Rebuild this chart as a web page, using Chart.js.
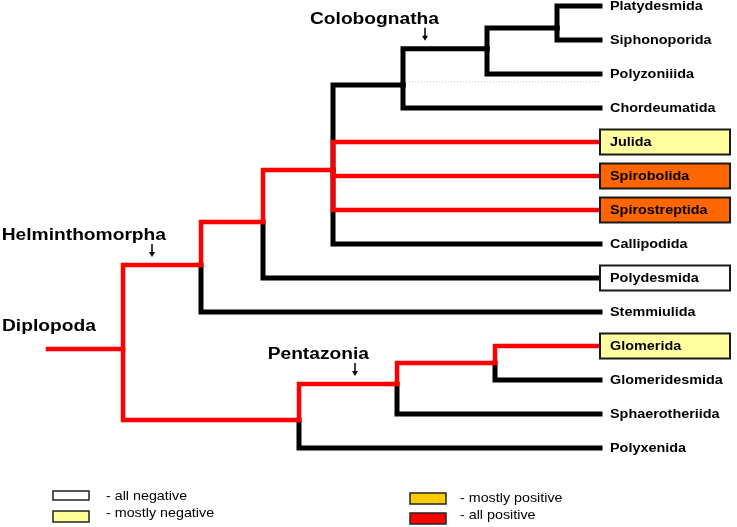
<!DOCTYPE html>
<html>
<head>
<meta charset="utf-8">
<script src="https://cdn.jsdelivr.net/npm/chart.js@4.4.1/dist/chart.umd.min.js"></script>
<style>
  html, body { margin: 0; padding: 0; background: #fff; }
  canvas { display: block; }
</style>
</head>
<body>
<canvas id="tree" width="737" height="527"></canvas>
<script>
// leaves, top to bottom (row = leaf index)
const taxa = ['Platydesmida', 'Siphonoporida', 'Polyzoniiida', 'Chordeumatida', 'Julida', 'Spirobolida',
    'Spirostreptida', 'Callipodida', 'Polydesmida', 'Stemmiulida', 'Glomerida', 'Glomeridesmida',
    'Sphaerotheriida', 'Polyxenida'];
const taxonRows = [0, 1, 2, 3, 4, 5, 6, 7, 8, 9, 10, 11, 12, 13];
const taxonParents = ['n557', 'n557', 'Colobognatha', 'n403', 'n333', 'n333', 'n333', 'n333', 'n263',
    'Helminthomorpha', 'n495', 'n495', 'Pentazonia', 'n299'];
const taxonPositive = [false, false, false, false, true, true, true, false, false, false, true, false, false, false];
const taxonStatus = ['', '', '', '', 'mostly negative', 'positive', 'positive', '', 'all negative', '',
    'mostly negative', '', '', ''];
const tipDepth = 600;

// internal nodes
const nodeNames = ['Diplopoda', 'Helminthomorpha', 'n263', 'n333', 'n403', 'Colobognatha', 'n557', 'n299', 'Pentazonia', 'n495'];
const nodeParents = [null, 'Diplopoda', 'Helminthomorpha', 'n263', 'n333', 'n403', 'Colobognatha', 'Diplopoda', 'n299', 'Pentazonia'];
const nodeDepths = [123, 201, 263, 333, 403, 487, 557, 299, 397, 495];
const nodeRows = [10.09, 7.62, 6.35, 4.82, 2.32, 1.26, 0.65, 12.18, 11.12, 10.5];
const nodePositive = [true, true, true, true, false, false, false, true, true, true];
const stemDepth = 48;

// legend
const legendLabels = ['- all negative', '- mostly negative', '- mostly positive', '- all positive'];
const legendColors = ['#ffffff', '#ffff99', '#ffcc00', '#ff0000'];

const boxFill = { 'all negative': '#ffffff', 'mostly negative': '#ffffa0', 'positive': '#ff6600' };

const datasets = [];

function addBranch(points, positive) {
    datasets.push({
        data: points,
        showLine: true,
        pointRadius: 0,
        borderColor: positive ? '#ff0000' : '#000000',
        borderWidth: positive ? 4.5 : 5,
        borderJoinStyle: 'miter',
        borderCapStyle: 'square',
        tension: 0,
        order: positive ? 0 : 1
    });
}

function parentOf(name) {
    const i = nodeNames.indexOf(name);
    return { x: nodeDepths[i], y: nodeRows[i] };
}

// stem of the root
addBranch([{ x: stemDepth, y: nodeRows[0] }, { x: nodeDepths[0], y: nodeRows[0] }], nodePositive[0]);

nodeNames.forEach((name, i) => {
    if (!nodeParents[i]) return;
    const p = parentOf(nodeParents[i]);
    addBranch([{ x: p.x, y: p.y }, { x: p.x, y: nodeRows[i] }, { x: nodeDepths[i], y: nodeRows[i] }], nodePositive[i]);
});

taxa.forEach((name, i) => {
    const p = parentOf(taxonParents[i]);
    addBranch([{ x: p.x, y: p.y }, { x: p.x, y: taxonRows[i] }, { x: tipDepth, y: taxonRows[i] }], taxonPositive[i]);
});

// faint dotted guide between Polyzoniiida and Chordeumatida
datasets.push({
    data: [{ x: nodeDepths[4], y: 2.235 }, { x: tipDepth, y: 2.235 }],
    showLine: true,
    pointRadius: 0,
    borderColor: '#c8c8c8',
    borderWidth: 1,
    borderDash: [1, 2],
    order: 2
});

// clade labels: arrow placed along the stem of the named node
const cladeArrows = { Colobognatha: 425, Helminthomorpha: 152, Pentazonia: 355 };

function stretchedText(ctx, text, x, y, font, align, sx) {
    ctx.save();
    ctx.translate(x, y);
    ctx.scale(sx, 1);
    ctx.font = font;
    ctx.textAlign = align;
    ctx.fillText(text, 0, 0);
    ctx.restore();
}

const treeLabels = {
    id: 'treeLabels',
    afterDatasetsDraw(chart) {
        const ctx = chart.ctx;
        const xs = chart.scales.x;
        const ys = chart.scales.y;
        ctx.save();
        ctx.fillStyle = '#000';
        ctx.textBaseline = 'middle';

        // tip labels and boxes
        taxa.forEach((name, i) => {
            const px = xs.getPixelForValue(tipDepth);
            const py = ys.getPixelForValue(taxonRows[i]);
            const status = taxonStatus[i];
            if (status) {
                ctx.fillStyle = boxFill[status];
                ctx.fillRect(px, py - 12.5, 130, 25);
                ctx.lineWidth = 2;
                ctx.strokeStyle = '#1a1a1a';
                ctx.strokeRect(px, py - 12.5, 130, 25);
            }
            ctx.fillStyle = '#000';
            stretchedText(ctx, name, px + 10, py + 0.5, 'bold 12px "Liberation Sans", Arial, sans-serif', 'left', 1.2);
        });

        // clade names with arrows
        ctx.textBaseline = 'alphabetic';
        Object.keys(cladeArrows).forEach(name => {
            const i = nodeNames.indexOf(name);
            const ax = xs.getPixelForValue(cladeArrows[name]);
            const by = ys.getPixelForValue(nodeRows[i]);
            stretchedText(ctx, name, ax + 14, by - 25, 'bold 16px "Liberation Sans", Arial, sans-serif', 'right', 1.2);
            ctx.strokeStyle = '#000';
            ctx.lineWidth = 1.5;
            ctx.beginPath();
            ctx.moveTo(ax, by - 21);
            ctx.lineTo(ax, by - 12);
            ctx.stroke();
            ctx.beginPath();
            ctx.moveTo(ax - 3, by - 13);
            ctx.lineTo(ax + 3, by - 13);
            ctx.lineTo(ax, by - 8);
            ctx.closePath();
            ctx.fill();
        });
        const rootY = ys.getPixelForValue(nodeRows[0]);
        stretchedText(ctx, 'Diplopoda', 2, rootY - 18, 'bold 16px "Liberation Sans", Arial, sans-serif', 'left', 1.2);

        // legend
        const legendSpots = [
            { bx: 53, by: 491, bh: 9, tx: 106, ty: 500 },
            { bx: 53, by: 511, bh: 11, tx: 106, ty: 517 },
            { bx: 410, by: 493, bh: 11, tx: 460, ty: 502 },
            { bx: 410, by: 513, bh: 11, tx: 460, ty: 519 }
        ];
        legendLabels.forEach((label, i) => {
            const s = legendSpots[i];
            ctx.fillStyle = legendColors[i];
            ctx.fillRect(s.bx, s.by, 36, s.bh);
            ctx.strokeStyle = '#222';
            ctx.lineWidth = 1.5;
            ctx.strokeRect(s.bx, s.by, 36, s.bh);
            ctx.fillStyle = '#000';
            stretchedText(ctx, label, s.tx, s.ty, '13px "Liberation Sans", Arial, sans-serif', 'left', 1.1);
        });
        ctx.restore();
    }
};

const ctx = document.getElementById('tree').getContext('2d');
const chart = new Chart(ctx, {
    type: 'scatter',
    data: { datasets: datasets },
    options: {
        responsive: false,
        animation: false,
        layout: { padding: 0 },
        plugins: {
            legend: { display: false },
            tooltip: { enabled: false }
        },
        scales: {
            x: { type: 'linear', display: false, min: 0, max: 737 },
            y: { type: 'linear', display: false, reverse: true, min: -6 / 34, max: 521 / 34 }
        }
    },
    plugins: [treeLabels]
});
</script>
</body>
</html>
